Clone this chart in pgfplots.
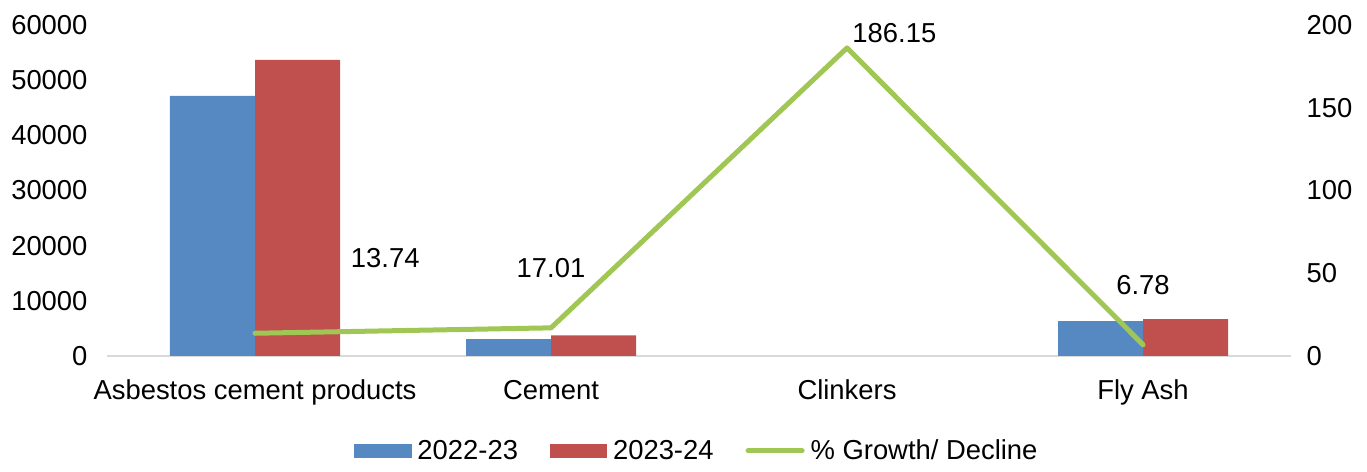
\documentclass[border=0pt]{standalone}
\usepackage{pgfplots}
\pgfplotsset{compat=1.18}
\usepackage{fontspec}
\setmainfont{Liberation Sans}
\definecolor{barblue}{RGB}{86,136,194}
\definecolor{barred}{RGB}{192,80,77}
\definecolor{linegreen}{RGB}{160,198,84}
\definecolor{axisgray}{RGB}{217,217,217}
\newcommand{\chartfont}{\fontsize{13.7}{16}\selectfont}
\begin{document}
\chartfont
\begin{tikzpicture}
\pgfplotsset{
  common/.style={
    scale only axis, width=592pt, height=165.5pt,
    xmin=-0.5, xmax=3.5,
    /pgf/number format/assume math mode=true,
    tick style={draw=none},
    ticklabel style={font=\chartfont},
  }
}
\begin{axis}[common,
  ybar=0pt, bar width=42.5pt,
  ymin=0, ymax=60000, ytick={0,10000,...,60000},
  scaled y ticks=false,
  yticklabel style={/pgf/number format/fixed, /pgf/number format/1000 sep={}, xshift=-5pt},
  axis x line*=bottom, axis y line*=left,
  x axis line style={draw=axisgray, line width=1pt, -},
  y axis line style={draw=none},
  xtick={0,1,2,3},
  xticklabels={Asbestos cement products, Cement, Clinkers, Fly Ash},
  xticklabel style={yshift=-3pt},
  legend style={at={(0.5,-0.29)}, anchor=center, draw=none, legend columns=-1,
    font=\chartfont,
    nodes={inner xsep=3pt},
    /tikz/every even column/.append style={column sep=13pt}},
  legend image code/.code={\fill[#1] (0pt,-3pt) rectangle (28.5pt,4pt);},
]
\addplot[fill=barblue, draw=none] coordinates {(0,47150) (1,3080) (3,6340)};
\addlegendentry{2022-23}
\addplot[fill=barred, draw=none] coordinates {(0,53680) (1,3750) (3,6700)};
\addlegendentry{2023-24}
\addlegendimage{legend image code/.code={\draw[linegreen, line width=2.5pt, line cap=round] (1pt,0.5pt) -- (28pt,0.5pt);}}
\addlegendentry{\% Growth/ Decline}
\coordinate (bl) at (rel axis cs:0,0);
\coordinate (tr) at (rel axis cs:1,1);
\end{axis}
\begin{axis}[common,
  ymin=0, ymax=200, ytick={0,50,...,200},
  axis y line*=right, axis x line=none,
  y axis line style={draw=none},
  yticklabel style={xshift=3pt},
  clip=false,
]
\addplot[linegreen, line width=2.5pt, line cap=round, line join=round, mark=none]
  coordinates {(0,13.74) (1,17.01) (2,186.15) (3,6.78)};
\node at (axis cs:0.44,59.2) {13.74};
\node at (axis cs:1.0,53.2) {17.01};
\node at (axis cs:2.16,195.2) {186.15};
\node at (axis cs:3.0,42.9) {6.78};
\end{axis}
\path ([shift={(-53.5pt,-52.5pt)}]bl) rectangle ([shift={(38pt,12.5pt)}]tr);
\end{tikzpicture}
\end{document}
